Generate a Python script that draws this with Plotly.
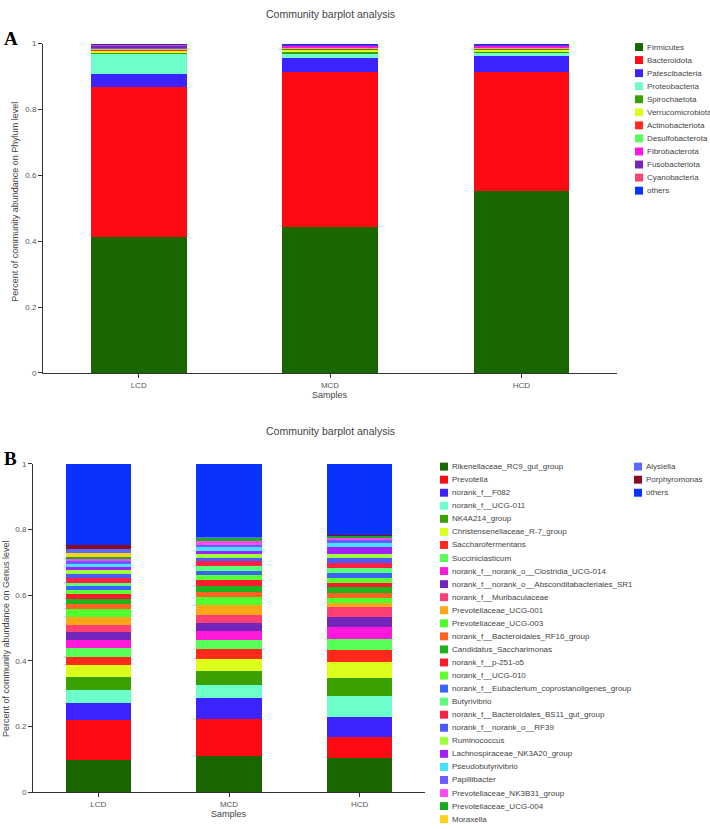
import plotly.graph_objects as go

W, H = 710, 829

# ---------------- data ----------------
samples = ["LCD", "MCD", "HCD"]

phyla = ["Firmicutes", "Bacteroidota", "Patescibacteria", "Proteobacteria", "Spirochaetota",
         "Verrucomicrobiota", "Actinobacteriota", "Desulfobacterota", "Fibrobacterota",
         "Fusobacteriota", "Cyanobacteria", "others"]
phylum_lcd = [0.414, 0.454, 0.039, 0.060, 0.007, 0.005, 0.004, 0.003, 0.004, 0.005, 0.002, 0.003]
phylum_mcd = [0.443, 0.470, 0.044, 0.011, 0.007, 0.008, 0.004, 0.003, 0.004, 0.003, 0.001, 0.002]
phylum_hcd = [0.551, 0.364, 0.047, 0.008, 0.007, 0.005, 0.005, 0.003, 0.004, 0.003, 0.001, 0.002]

genera = ["Rikenellaceae_RC9_gut_group", "Prevotella", "norank_f__F082", "norank_f__UCG-011",
          "NK4A214_group", "Christensenellaceae_R-7_group", "Saccharofermentans", "Succiniclasticum",
          "norank_f__norank_o__Clostridia_UCG-014", "norank_f__norank_o__Absconditabacteriales_SR1",
          "norank_f__Muribaculaceae", "Prevotellaceae_UCG-001", "Prevotellaceae_UCG-003",
          "norank_f__Bacteroidales_RF16_group", "Candidatus_Saccharimonas", "norank_f__p-251-o5",
          "norank_f__UCG-010", "norank_f__Eubacterium_coprostanoligenes_group", "Butyrivibrio",
          "norank_f__Bacteroidales_BS11_gut_group", "norank_f__norank_o__RF39", "Ruminococcus",
          "Lachnospiraceae_NK3A20_group", "Pseudobutyrivibrio", "Papillibacter",
          "Prevotellaceae_NK3B31_group", "Prevotellaceae_UCG-004", "Moraxella", "Alysiella",
          "Porphyromonas", "others"]
genus_lcd = [0.100, 0.121, 0.051, 0.039, 0.039, 0.037, 0.026, 0.027, 0.023, 0.024, 0.022, 0.026,
             0.022, 0.018, 0.014, 0.014, 0.012, 0.012, 0.012, 0.014, 0.011, 0.012, 0.010, 0.009,
             0.009, 0.008, 0.005, 0.012, 0.012, 0.012, 0.247]
genus_mcd = [0.111, 0.113, 0.063, 0.040, 0.043, 0.036, 0.031, 0.027, 0.028, 0.024, 0.024, 0.032,
             0.023, 0.016, 0.018, 0.017, 0.015, 0.014, 0.014, 0.014, 0.012, 0.010, 0.009, 0.012,
             0.008, 0.011, 0.011, 0.001, 0.001, 0.001, 0.221]
genus_hcd = [0.106, 0.064, 0.059, 0.063, 0.056, 0.048, 0.038, 0.033, 0.036, 0.031, 0.030, 0.013,
             0.014, 0.016, 0.019, 0.012, 0.015, 0.015, 0.015, 0.014, 0.016, 0.014, 0.019, 0.013,
             0.008, 0.007, 0.007, 0.001, 0.001, 0.001, 0.216]

y_ticks = [0, 0.2, 0.4, 0.6, 0.8, 1]
y_ticktext = ["0", "0.2", "0.4", "0.6", "0.8", "1"]

# ---------------- styles ----------------
phylum_colors = ["#1a6600", "#ff0a14", "#3b24ff", "#6dffc9", "#3aa100", "#dcff1c", "#ff2a1a",
                 "#58ff58", "#ff1adb", "#7426bb", "#ff4075", "#0a32ff"]
genus_colors = ["#1a6600", "#ff0a14", "#3b24ff", "#6dffc9", "#3aa100", "#dcff1c", "#ff2a1a",
                "#58ff58", "#ff1adb", "#7426bb", "#ff4075", "#ffa518", "#52ff2e", "#ff6324",
                "#1db31a", "#ff1a30", "#5cff32", "#3a64ff", "#5aff7a", "#ff2046", "#4a5bff",
                "#a0ff3c", "#a420ff", "#48e0ff", "#6a5cff", "#ff4cef", "#1aaa22", "#ffd21a",
                "#5a6aff", "#8b0a1e", "#0a32ff"]

FONT = "Liberation Sans, Arial, sans-serif"
TXT = "#444444"
AXC = "#333333"


def px(x):
    return x / W


def py(y):
    return 1 - y / H


fig = go.Figure()

for i, name in enumerate(phyla):
    fig.add_trace(go.Bar(x=samples, y=[phylum_lcd[i], phylum_mcd[i], phylum_hcd[i]], name=name,
                         marker=dict(color=phylum_colors[i], line=dict(width=0)),
                         xaxis="x", yaxis="y", showlegend=False))
for i, name in enumerate(genera):
    fig.add_trace(go.Bar(x=samples, y=[genus_lcd[i], genus_mcd[i], genus_hcd[i]], name=name,
                         marker=dict(color=genus_colors[i], line=dict(width=0)),
                         xaxis="x2", yaxis="y2", showlegend=False))

axis_common = dict(showline=True, linecolor=AXC, linewidth=1, ticks="outside", ticklen=4,
                   tickcolor=AXC, tickfont=dict(family=FONT, size=8, color="#555555"),
                   showgrid=False, zeroline=False)

fig.update_layout(
    width=W, height=H, barmode="stack", bargap=0.5,
    margin=dict(l=0, r=0, t=0, b=0),
    paper_bgcolor="white", plot_bgcolor="white",
    showlegend=False,
    font=dict(family=FONT, color=TXT),
    xaxis=dict(domain=[px(43), px(617)], anchor="y", **axis_common),
    yaxis=dict(domain=[py(373), py(40)], anchor="x", range=[0, 1], tickvals=y_ticks,
               ticktext=y_ticktext, **axis_common),
    xaxis2=dict(domain=[px(33), px(425)], anchor="y2", **axis_common),
    yaxis2=dict(domain=[py(797), py(465)], anchor="x2", range=[0, 1], tickvals=y_ticks,
                ticktext=y_ticktext, **axis_common),
)

ann = []
shapes = []


def text(x, y, s, size=9, xanchor="center", angle=0, color=TXT, family=FONT, bold=False):
    ann.append(dict(x=px(x), y=py(y), xref="paper", yref="paper", text=(f"<b>{s}</b>" if bold else s),
                    showarrow=False, xanchor=xanchor, yanchor="middle", textangle=angle,
                    font=dict(family=family, size=size, color=color)))


# titles / labels
text(330, 10, "Community barplot analysis", size=10.5)
text(330, 432, "Community barplot analysis", size=10.5)
text(330, 395, "Samples", size=9)
text(229, 819, "Samples", size=9)
text(15, 200, "Percent of community abundance on Phylum level", size=9, angle=-90)
text(6, 642, "Percent of community abundance on Genus level", size=9, angle=-90)
text(2, 35, "A", size=19, xanchor="left", color="black", family="Liberation Serif, Times New Roman, serif", bold=True)
text(2, 459, "B", size=19, xanchor="left", color="black", family="Liberation Serif, Times New Roman, serif", bold=True)


def legend_block(names, colors, x0, y0, step=13.2):
    for k, (n, c) in enumerate(zip(names, colors)):
        yc = y0 + k * step
        shapes.append(dict(type="rect", xref="paper", yref="paper",
                           x0=px(x0), x1=px(x0 + 8), y0=py(yc + 4), y1=py(yc - 4),
                           fillcolor=c, line=dict(width=0)))
        text(x0 + 10, yc, n, size=8, xanchor="left")


legend_block(phyla, phylum_colors, 635, 43.5)
legend_block(genera[:28], genus_colors[:28], 440, 467.7)
legend_block(genera[28:], genus_colors[28:], 634, 467.7)

fig.update_layout(annotations=ann, shapes=shapes)

fig.write_html("out.html", config={"displayModeBar": False},
               post_script="document.body.style.margin='0';document.body.style.overflow='hidden';")
